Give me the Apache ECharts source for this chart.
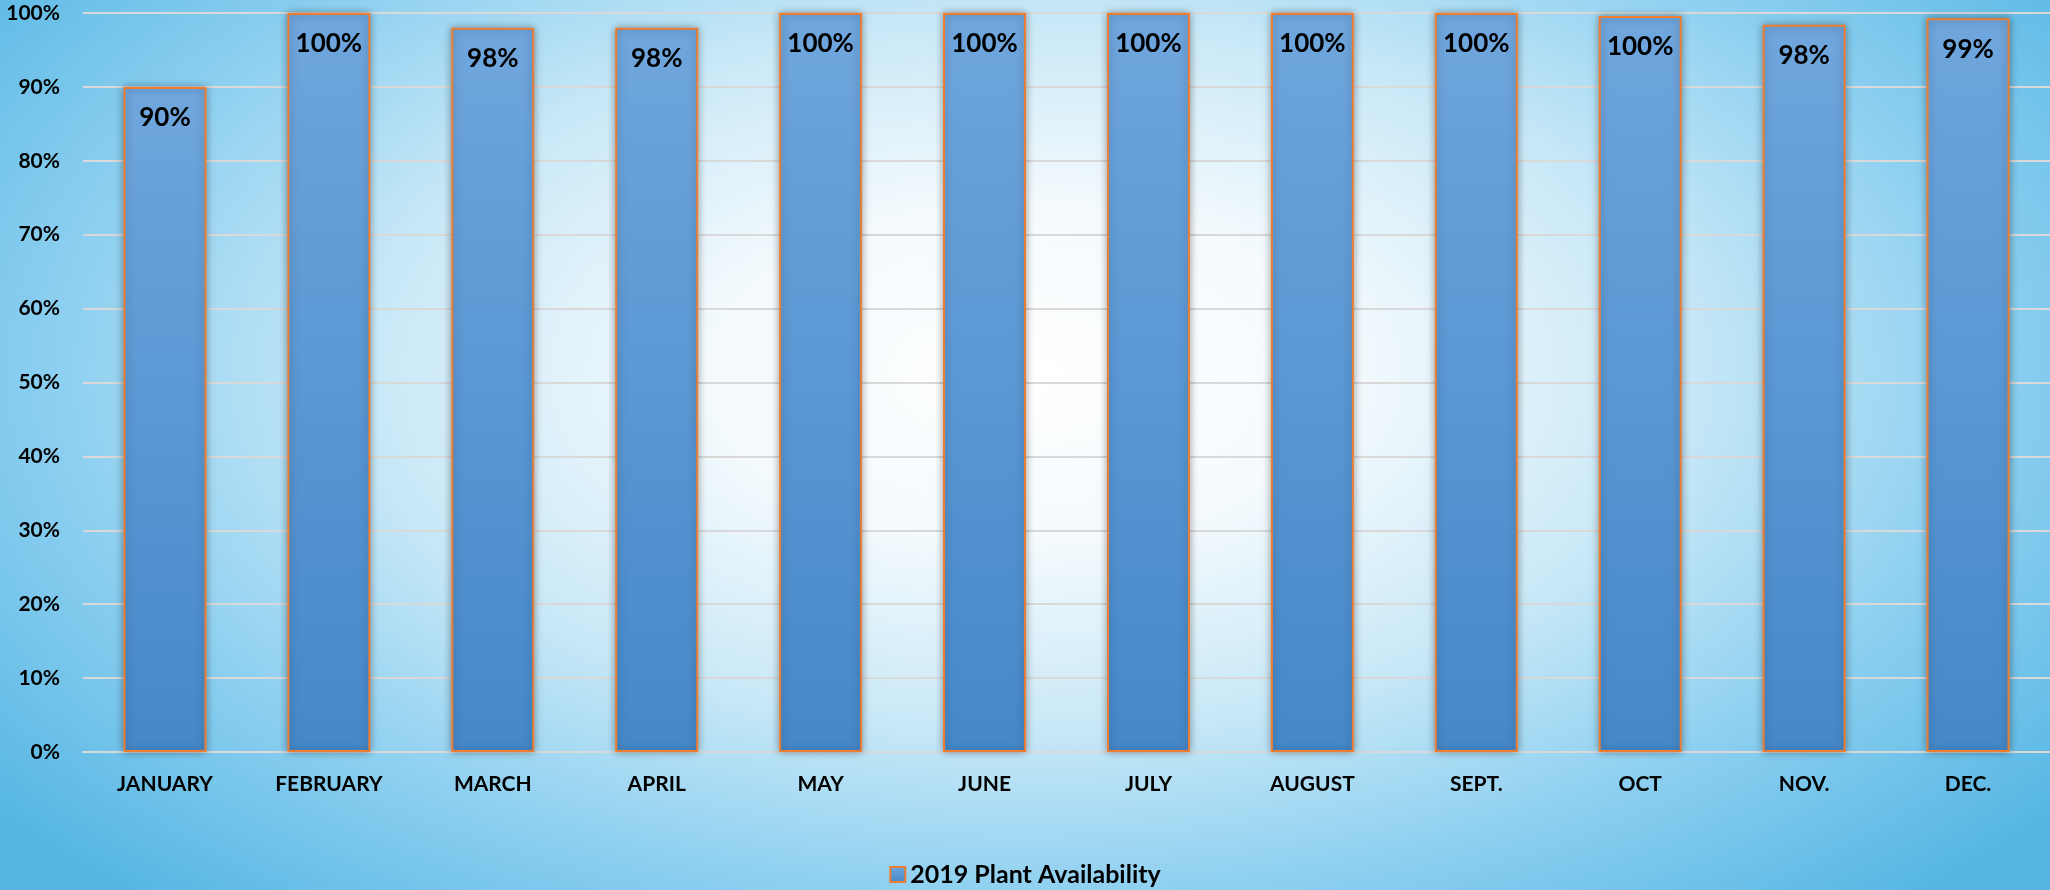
<!DOCTYPE html>
<html>
<head>
<meta charset="utf-8">
<script src="https://cdn.jsdelivr.net/npm/echarts@6/dist/echarts.min.js"></script>
<style>
  html, body { margin: 0; padding: 0; }
  body {
    width: 2050px;
    height: 890px;
    background: radial-gradient(ellipse 64% 80% at 50% 42%, #ffffff 0%, #f4fafd 24%, #c8e8f7 50%, #8ccff0 74%, #55b6e3 100%);
  }
  #chart { width: 2050px; height: 890px; }
</style>
</head>
<body>
<div id="chart"></div>
<script>
const months = ['JANUARY', 'FEBRUARY', 'MARCH', 'APRIL', 'MAY', 'JUNE', 'JULY', 'AUGUST', 'SEPT.', 'OCT', 'NOV.', 'DEC.']
const availability = [90, 100, 98, 98, 100, 100, 100, 100, 100, 99.6, 98.4, 99.3]
const seriesName = '2019 Plant Availability'

const font = 'Lato, "Open Sans", sans-serif'
const chart = echarts.init(document.getElementById('chart'))

const option = {
  backgroundColor: 'transparent',
  animation: false,
  textStyle: { fontFamily: font },
  grid: { left: 83, right: 0, top: 13, bottom: 138 },
  legend: {
    data: [seriesName],
    bottom: -2,
    left: 'center',
    icon: 'rect',
    itemWidth: 15,
    itemHeight: 15,
    itemGap: 8,
    itemStyle: { borderColor: '#ed7d31', borderWidth: 2 },
    textStyle: { color: '#000', fontSize: 25, fontWeight: 'bold', fontFamily: font }
  },
  xAxis: {
    type: 'category',
    data: months,
    axisTick: { show: false },
    axisLine: { lineStyle: { color: '#d9d9d9', width: 2 } },
    axisLabel: { color: '#000', fontSize: 21, fontWeight: 'bold', margin: 22, fontFamily: font }
  },
  yAxis: {
    type: 'value',
    min: 0,
    max: 100,
    interval: 10,
    axisLine: { show: false },
    axisTick: { show: false },
    axisLabel: { color: '#000', fontSize: 21, fontWeight: 'bold', margin: 23, formatter: '{value}%', fontFamily: font },
    splitLine: { lineStyle: { color: '#d9d9d9', width: 2 } }
  },
  series: [{
    name: seriesName,
    type: 'bar',
    data: availability,
    barWidth: 83,
    itemStyle: {
      color: new echarts.graphic.LinearGradient(0, 0, 0, 1, [
        { offset: 0, color: '#6fa6dd' },
        { offset: 1, color: '#4588c9' }
      ]),
      borderColor: '#ed7d31',
      borderWidth: 2,
      shadowColor: 'rgba(0, 0, 0, 0.35)',
      shadowBlur: 8
    },
    label: {
      show: true,
      position: 'insideTop',
      distance: 18,
      color: '#000',
      fontSize: 26,
      fontWeight: 'bold',
      fontFamily: font,
      formatter: p => Math.round(p.value) + '%'
    }
  }]
}

chart.setOption(option)
</script>
</body>
</html>
